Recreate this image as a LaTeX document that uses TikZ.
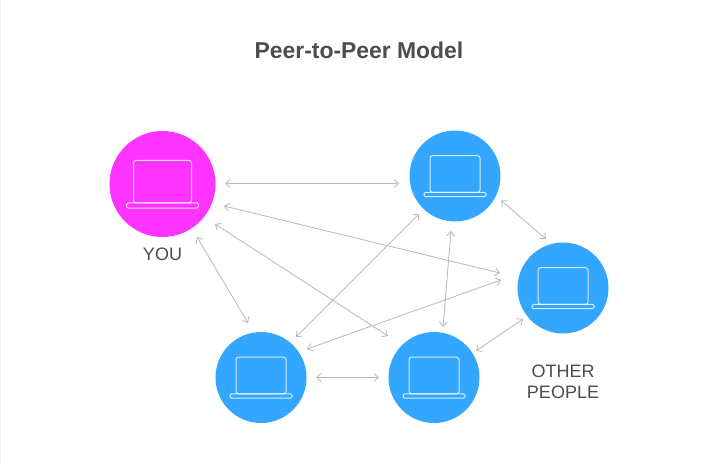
\documentclass[tikz,border=0pt]{standalone}
\usepackage{fontspec}
\setmainfont{Liberation Sans}
\usetikzlibrary{arrows.meta}
\definecolor{youpink}{HTML}{FF33FF}
\definecolor{peerblue}{HTML}{33A6FF}
\definecolor{linkgrey}{HTML}{BBBBBB}
\definecolor{labelgrey}{HTML}{4D4D4D}
\tikzset{
  host/.style={circle,inner sep=0pt,draw=none},
  youhost/.style={host,fill=youpink,minimum size=106pt},
  peerhost/.style={host,fill=peerblue,minimum size=91pt},
  link/.style={draw=linkgrey,line width=0.85pt,{Straight Barb[length=4.5pt,width=8pt]}-{Straight Barb[length=4.5pt,width=8pt]}},
  lid/.style={draw=white,draw opacity=0.8,line width=1pt,rounded corners=2.5pt},
  caption/.style={text=labelgrey,font=\fontsize{18}{21}\selectfont,align=center},
}
\newcommand{\laptop}[3]{% centre, half width scale
  \begin{scope}[shift={(#1)},scale=#2]
    \draw[lid] (-25,-20.3) rectangle (25,16.3);
    \draw[lid,rounded corners=1.5pt] (-31,16.3) rectangle (31,20.7);
  \end{scope}
}
\begin{document}
\begin{tikzpicture}[x=1pt,y=-1pt]
  \useasboundingbox (0,0) rectangle (714,463);
  \fill[white] (0,0) rectangle (714,463);
  \draw[draw=black!6,line width=0.8pt] (0.5,0) -- (0.5,463);

  \node[caption,font=\fontsize{22.9}{26}\selectfont\bfseries] (title) at (359,50) {Peer-to-Peer Model};

  \node[youhost] (you) at (162.5,184) {};
  \node[peerhost] (pa) at (455,176) {};
  \node[peerhost] (pb) at (563,288) {};
  \node[peerhost] (pc) at (261,377.5) {};
  \node[peerhost] (pd) at (434,377.5) {};

  \laptop{you}{1.16}{}
  \laptop{pa}{1}{}
  \laptop{pb}{1}{}
  \laptop{pc}{1}{}
  \laptop{pd}{1}{}

  \node[caption] (youlabel) at (162.5,254) {YOU};
  \node[caption] (otherlabel) at (563,381.5) {OTHER\\PEOPLE};

  \coordinate (y1) at (225,183.5);  \coordinate (a1) at (399,183.5);
  \coordinate (y2) at (224,206);    \coordinate (b1) at (500,273);
  \coordinate (y3) at (215,224);    \coordinate (d1) at (388,336);
  \coordinate (y4) at (197,237);    \coordinate (c1) at (248,323);
  \coordinate (a2) at (501,200.5);  \coordinate (b2) at (546,239);
  \coordinate (a3) at (419,214);    \coordinate (c2) at (296,337);
  \coordinate (a4) at (451,231);    \coordinate (d2) at (443,327);
  \coordinate (b3) at (501,280);    \coordinate (c3) at (307,349);
  \coordinate (b4) at (523,319);    \coordinate (d3) at (476,351);
  \coordinate (c4) at (316,377.5);  \coordinate (d4) at (379,377.5);

  \draw[link] (y1) -- (a1);
  \draw[link] (y2) -- (b1);
  \draw[link] (y3) -- (d1);
  \draw[link] (y4) -- (c1);
  \draw[link] (a2) -- (b2);
  \draw[link] (a3) -- (c2);
  \draw[link] (a4) -- (d2);
  \draw[link] (b3) -- (c3);
  \draw[link] (b4) -- (d3);
  \draw[link] (c4) -- (d4);
\end{tikzpicture}
\end{document}
